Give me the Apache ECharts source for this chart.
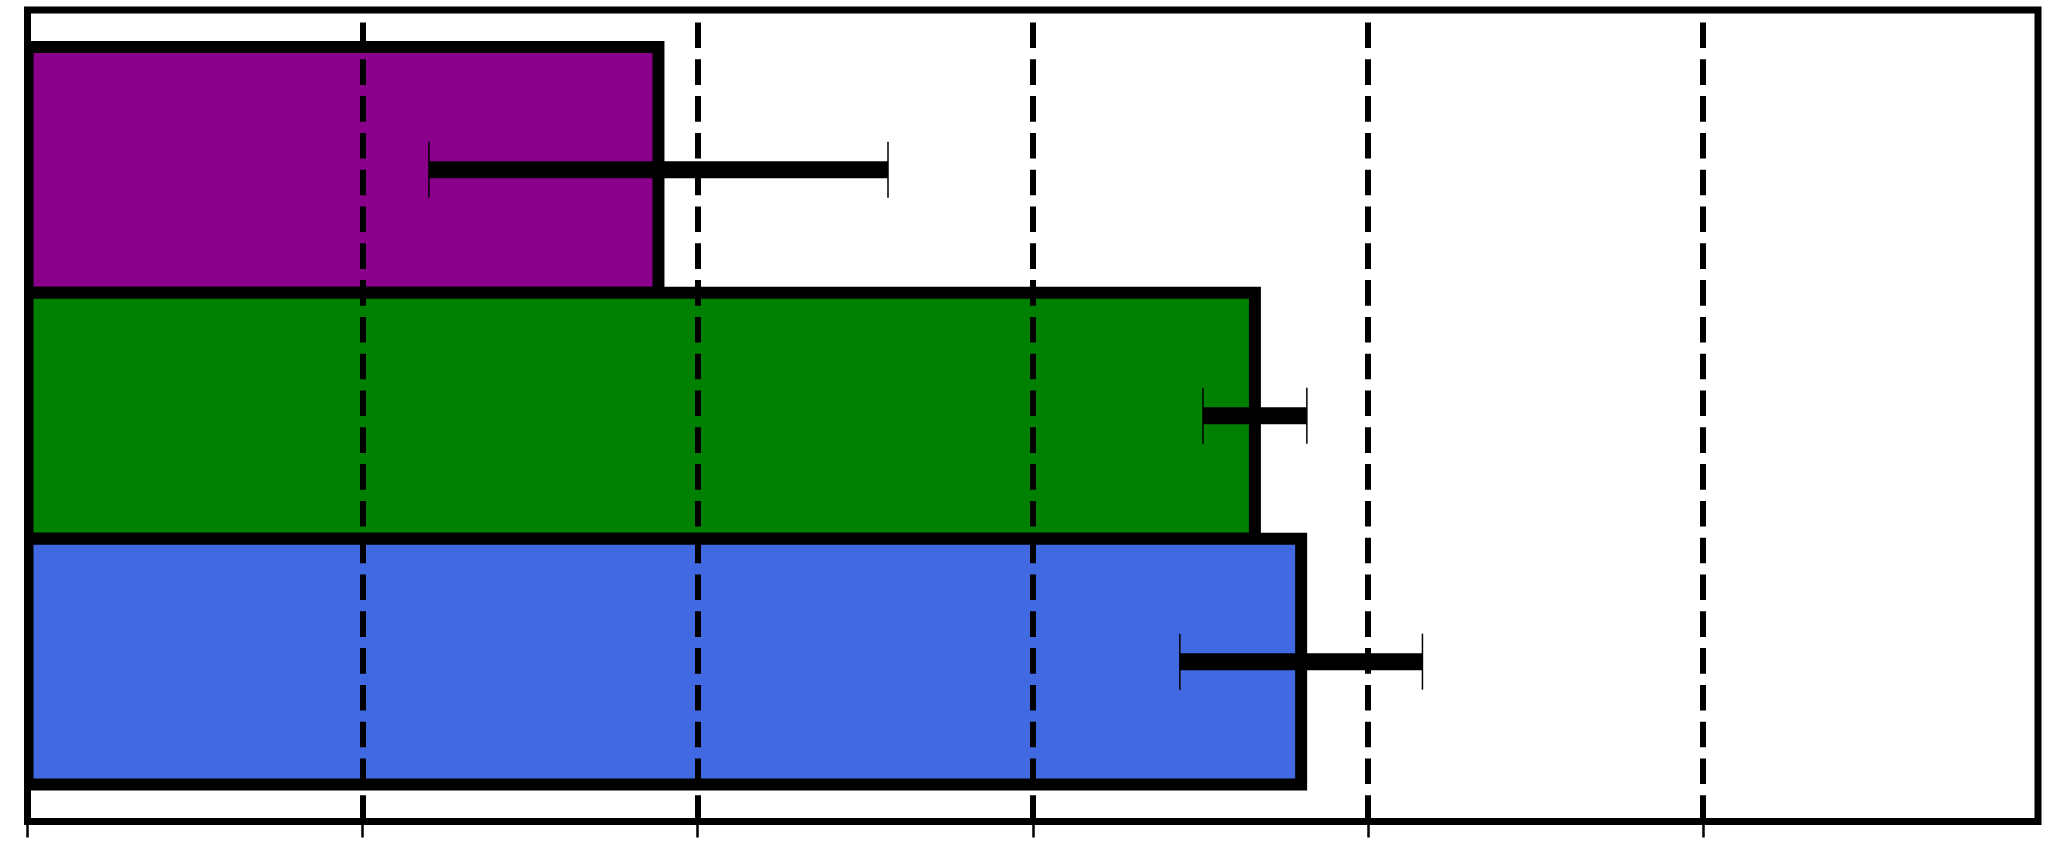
<!DOCTYPE html>
<html><head><meta charset="utf-8">
<script src="https://cdn.jsdelivr.net/npm/echarts@6/dist/echarts.min.js"></script>
<style>html,body{margin:0;padding:0;background:#fff}#c{width:2048px;height:848px}</style>
</head><body><div id="c"></div>
<script>
const categories = ['Purple', 'Green', 'Blue'];
const barValues = [1.883, 3.663, 3.801];
const errorValues = [0.685, 0.155, 0.362];
const barColors = ['#8B008B', '#008000', '#4169E1'];
const xTickValues = [0, 1, 2, 3, 4, 5];
const xMin = 0, xMax = 6, xInterval = 1;
const yMin = -0.65, yMax = 2.65;

const barData = categories.map((c, i) => [barValues[i], i, errorValues[i]]);

const chart = echarts.init(document.getElementById('c'));
chart.setOption({
  animation: false,
  backgroundColor: '#fff',
  grid: {
    left: 27.5, right: 10, top: 10, bottom: 26.5,
    show: true, borderColor: '#000', borderWidth: 7, backgroundColor: 'transparent'
  },
  xAxis: {
    type: 'value', min: xMin, max: xMax, interval: xInterval, z: 3, position: 'bottom',
    axisLine: { show: false, onZero: false },
    axisTick: { show: true, customValues: xTickValues, length: 16, lineStyle: { color: '#000', width: 2.5 } },
    axisLabel: { show: false },
    splitLine: { show: true, lineStyle: { color: '#000', width: 6, type: [25.6, 11.2], dashOffset: 24.3 } }
  },
  yAxis: {
    type: 'value', min: yMin, max: yMax, inverse: true, show: false
  },
  series: [
    {
      type: 'custom', clip: true, z: 2,
      encode: { x: 0, y: 1 },
      data: barData,
      renderItem: function (params, api) {
        const v = api.value(0), i = api.value(1);
        const p0 = api.coord([0, i - 0.5]);
        const p1 = api.coord([v, i + 0.5]);
        return {
          type: 'rect',
          shape: { x: p0[0], y: Math.min(p0[1], p1[1]), width: p1[0] - p0[0], height: Math.abs(p1[1] - p0[1]) },
          style: { fill: barColors[i], stroke: '#000', lineWidth: 12 }
        };
      }
    },
    {
      type: 'custom', clip: false, z: 4,
      encode: { x: 0, y: 1 },
      data: barData,
      renderItem: function (params, api) {
        const v = api.value(0), i = api.value(1), e = api.value(2);
        const a = api.coord([v - e, i]);
        const b = api.coord([v + e, i]);
        return {
          type: 'group',
          children: [
            { type: 'line', shape: { x1: a[0], y1: a[1], x2: b[0], y2: b[1] }, style: { stroke: '#000', lineWidth: 17, lineCap: 'butt' } },
            { type: 'line', shape: { x1: a[0], y1: a[1] - 28, x2: a[0], y2: a[1] + 28 }, style: { stroke: '#000', lineWidth: 1.5 } },
            { type: 'line', shape: { x1: b[0], y1: b[1] - 28, x2: b[0], y2: b[1] + 28 }, style: { stroke: '#000', lineWidth: 1.5 } }
          ]
        };
      }
    }
  ]
});
</script>
</body></html>
